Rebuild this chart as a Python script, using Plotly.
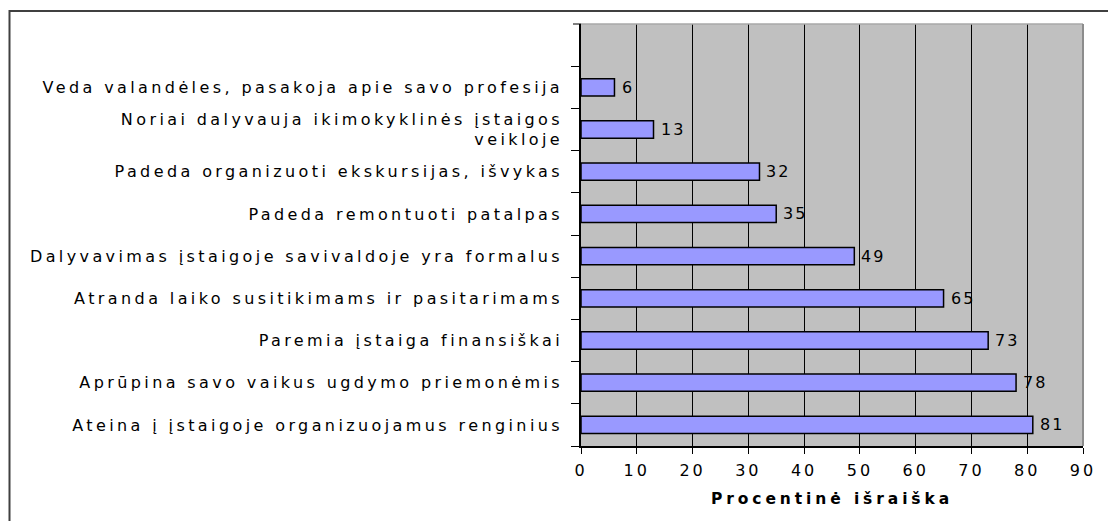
import plotly.graph_objects as go

# Data (bottom to top)
categories = [
    "Ateina į įstaigoje organizuojamus renginius",
    "Aprūpina savo vaikus ugdymo priemonėmis",
    "Paremia įstaiga finansiškai",
    "Atranda laiko susitikimams ir pasitarimams",
    "Dalyvavimas įstaigoje savivaldoje yra formalus",
    "Padeda remontuoti patalpas",
    "Padeda organizuoti ekskursijas, išvykas",
    "Noriai dalyvauja ikimokyklinės įstaigos<br>veikloje",
    "Veda valandėles, pasakoja apie savo profesija",
]
values = [81, 78, 73, 65, 49, 35, 32, 13, 6]
x_ticks = [0, 10, 20, 30, 40, 50, 60, 70, 80, 90]
x_title = "Procentinė išraiška"

FONT = "DejaVu Sans, Verdana, sans-serif"

# page has an 8px body margin -> figure is 8px smaller
FW, FH = 1108, 513
L, R, T, B = 573, 1075, 16, 438
W, H = R - L, B - T

def px(x):
    return (x - L) / W

def py(y):
    return (B - y) / H

fig = go.Figure()
fig.add_trace(go.Bar(
    x=values,
    y=categories,
    orientation="h",
    width=0.41,
    marker=dict(color="#9999FF", line=dict(color="#000000", width=1.5)),
    hoverinfo="skip",
))

annotations = [
    dict(x=v, y=c, xref="x", yref="y", text=str(v), showarrow=False,
         xanchor="left", yanchor="middle", xshift=7,
         font=dict(family=FONT, size=16, color="#000000"))
    for c, v in zip(categories, values)
]

shapes = [
    # outer frame (top and left visible)
    dict(type="path", xref="paper", yref="paper",
         path=f"M {px(1.5)},{py(530)} L {px(1.5)},{py(3)} L {px(1130)},{py(3)}",
         line=dict(color="#404040", width=2)),
    # plot area top edge
    dict(type="line", xref="paper", yref="paper", x0=0, x1=1, y0=1, y1=1,
         line=dict(color="#A8A8A8", width=1.5)),
    # plot area right edge
    dict(type="line", xref="paper", yref="paper", x0=1, x1=1, y0=0, y1=1,
         line=dict(color="#8C8C8C", width=2)),
    # top tick mark on the category axis
    dict(type="line", xref="paper", yref="paper", x0=px(L - 8), x1=0, y0=1, y1=1,
         line=dict(color="#000000", width=1)),
]

fig.update_layout(
    width=FW, height=FH,
    margin=dict(l=L, r=FW - R, t=T, b=FH - B, pad=0),
    paper_bgcolor="#FFFFFF",
    plot_bgcolor="#C0C0C0",
    showlegend=False,
    shapes=shapes,
    annotations=annotations,
    font=dict(family=FONT, size=16, color="#000000"),
    xaxis=dict(
        range=[0, 90],
        tickvals=x_ticks,
        ticktext=[str(t) for t in x_ticks],
        showgrid=True, gridcolor="#000000", gridwidth=1,
        zeroline=False,
        showline=True, linecolor="#000000", linewidth=1.5,
        ticks="outside", ticklen=6, tickcolor="#000000", tickwidth=1,
        tickfont=dict(family=FONT, size=16),
        ticklabelstandoff=3,
        title=dict(text=x_title, font=dict(family=FONT, size=15.5, weight="bold"), standoff=14),
        fixedrange=True,
    ),
    yaxis=dict(
        type="category",
        categoryorder="array",
        categoryarray=categories,
        range=[-0.5, 9.5],
        tickson="boundaries",
        showgrid=False,
        showline=True, linecolor="#000000", linewidth=1.5,
        ticks="outside", ticklen=8, tickcolor="#000000", tickwidth=1,
        tickfont=dict(family=FONT, size=16),
        ticklabelstandoff=13,
        fixedrange=True,
    ),
)

post = """
var gd = document.getElementById('{plot_id}');
function sp(sel, v){ gd.querySelectorAll(sel).forEach(function(t){ t.style.letterSpacing = v; }); }
sp('.ytick text', '3.4px');
sp('.xtick text', '3px');
sp('.annotation-text', '2px');
sp('.xtitle', '3.9px');
"""

fig.write_html("out.html", post_script=post)
